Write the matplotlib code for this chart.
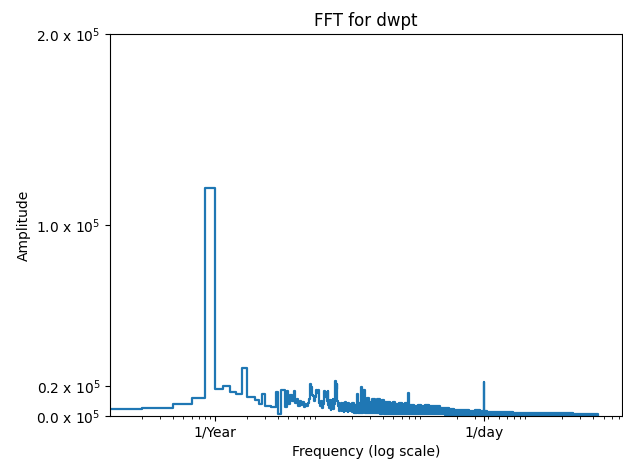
import numpy as np
import matplotlib.pyplot as plt

# Length of the hourly record, in years
years_per_dataset = 5.0

# |rfft| of dew point, one value per bin (bin k sits at k / years cycles per year);
# bin 0 is the DC term
low_amp = [
    450000, 3780, 4100, 6400, 9550, 119300, 13900, 15600, 12500, 11300, 25300,
    9900, 9900, 8500, 6400, 11300, 5500, 5500, 4600, 4600, 12500,
    1200, 13400, 13400, 4600, 13000, 6400, 11000, 8000, 13000, 7000,
    9000, 5500, 8000, 6000, 7500, 4500, 6500, 5000, 7000, 9000,
    16600, 15000, 11000, 10500, 8000, 10000, 13400, 12000, 13400, 7000,
    5000, 8000, 4000, 6500, 9000, 13000, 10000, 12500, 8000, 13000,
    6000, 4000, 8500, 3000, 7000, 5000, 9000, 3500, 6500, 12000,
    18300, 14000, 17000, 8000, 5000, 7000, 2500, 6000, 4000, 7000,
    2500, 6500, 3000, 7000, 2000, 6000, 3500, 7500, 2500, 6000,
    3000, 6500, 2000, 7000, 3500, 6000, 2500, 6500, 3000, 6000,
]

# Dense upper part of the spectrum: band of the amplitude between its
# lower and upper envelope (cycles per year)
band_freq = [20, 21, 22.3, 23, 24.4, 25.2, 25.7, 26.5, 28, 29.5, 31, 33, 35,
             37, 39, 41, 43, 46, 49, 52, 56, 60, 64, 68.7, 71, 78, 85, 92, 100,
             110, 120, 139, 155, 170, 190, 215, 260, 300, 330, 364.5, 366.5,
             390, 520, 690, 800, 1200, 2570, 4383]
band_hi = [7000, 6000, 11700, 7000, 15100, 7500, 13400, 8000, 9500, 7500, 8800,
           7800, 9000, 7500, 8500, 7200, 7600, 6800, 7400, 6500, 7000, 6300,
           7000, 12000, 6000, 5500, 6000, 5200, 5600, 5000, 5400, 4200, 4000,
           3600, 3300, 3000, 2800, 3000, 2700, 17700, 2700, 2200, 2000, 1800,
           1500, 1400, 900, 900]
band_lo = [2000, 1800, 2000, 1500, 1800, 1500, 2000, 1500, 1500, 1500, 1500,
           1400, 1500, 1300, 1400, 1300, 1300, 1300, 1200, 1300, 1200, 1200,
           1100, 1200, 1000, 1000, 1000, 900, 900, 900, 850, 800, 750, 700,
           650, 600, 600, 600, 600, 600, 600, 500, 500, 400, 400, 300, 250, 250]

xtick_values = [1, 365.2524]
xtick_labels = ['1/Year', '1/day']
ytick_values = [0, 15500, 100000, 200000]
ytick_labels = ['0.0 x 10$^5$', '0.2 x 10$^5$', '1.0 x 10$^5$', '2.0 x 10$^5$']

color = '#1f77b4'

fig = plt.figure(figsize=(6.23, 4.63), dpi=100)
ax = fig.add_axes([0.1766, 0.1015, 0.8214, 0.824])

f_per_year = np.arange(len(low_amp)) / years_per_dataset
ax.step(f_per_year, low_amp, color=color, lw=1.6)
ax.fill_between(band_freq, band_lo, band_hi, step='post', facecolor=color,
                edgecolor=color, lw=1.6)

ax.set_xscale('log')
ax.set_ylim(0, 200000)
ax.set_xlim(0.1, 7450)
ax.set_xticks(xtick_values, labels=xtick_labels)
ax.set_yticks(ytick_values, labels=ytick_labels)
ax.set_xlabel('Frequency (log scale)')
ax.set_ylabel('Amplitude')
ax.set_title('FFT for dwpt')

fig.savefig('out.png', dpi=100)
